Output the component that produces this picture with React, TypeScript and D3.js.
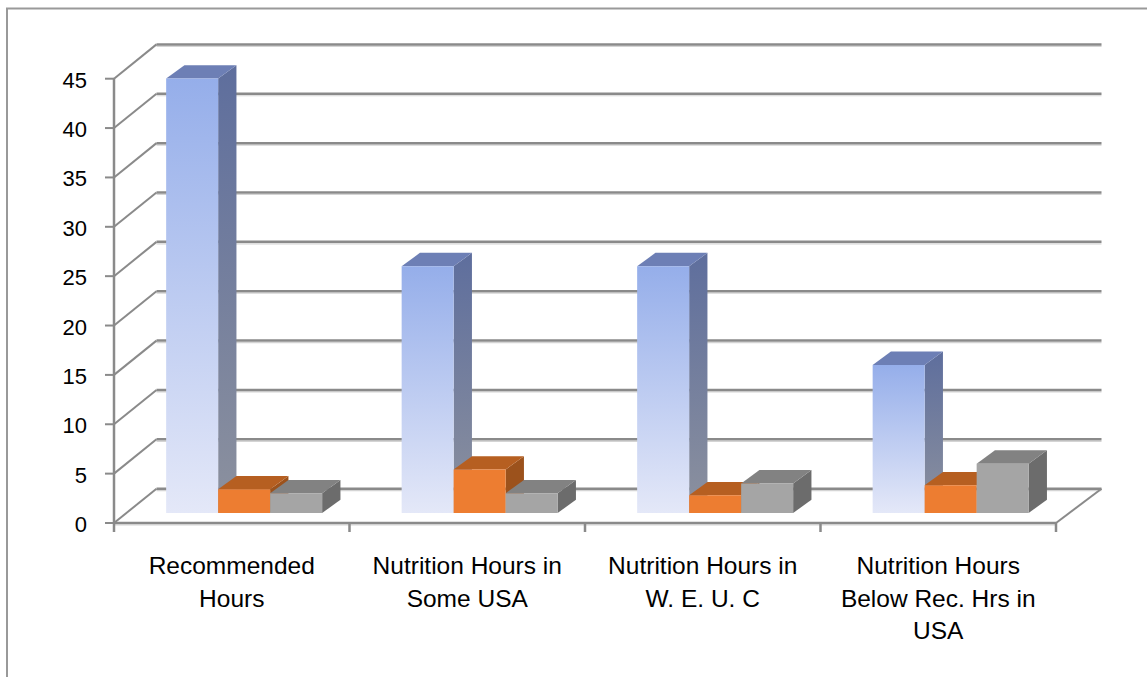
import React from "react";
import * as d3 from "d3";

const categories = [
  "Recommended\nHours",
  "Nutrition Hours in\nSome USA",
  "Nutrition Hours in\nW. E. U. C",
  "Nutrition Hours\nBelow Rec. Hrs in\nUSA",
];
const seriesNames = ["Series 1", "Series 2", "Series 3"];
const series1 = [44, 25, 25, 15];
const series2 = [2.4, 4.4, 1.8, 2.8];
const series3 = [2, 2, 3, 5];
const yTicks = [0, 5, 10, 15, 20, 25, 30, 35, 40, 45];

const W = 1147;
const H = 677;

// 3D geometry
const FRONT_X0 = 114;
const FRONT_X1 = 1056;
const WALL_DX = 42.5;
const WALL_DY = -34.3;
const BAR_DX = 12.4;
const BAR_DY = -10;
const DEPTH_DX = 18.3;
const DEPTH_DY = -13.3;
const BAR_W = 52;

const faces = [
  { front: "url(#gBlueFront)", side: "url(#gBlueSide)", top: "#6d7fb5" },
  { front: "#ED7D31", side: "#9c521c", top: "#b65f21" },
  { front: "#A5A5A5", side: "#6c6c6c", top: "#828282" },
];

export default function App() {
  const x = d3.scaleBand<string>().domain(categories).range([FRONT_X0, FRONT_X1]).padding(0);
  const y = d3.scaleLinear().domain([0, 45]).range([523, 78.7]);
  const bw = x.bandwidth();
  const groupW = BAR_W * 3;
  const xs = d3
    .scaleBand<string>()
    .domain(seriesNames)
    .range([(bw - groupW) / 2, (bw + groupW) / 2]);
  const allSeries = [series1, series2, series3];

  const gridColor = "#8a8a8a";
  const shadow = "#d4d4d4";

  const bars: JSX.Element[] = [];
  categories.forEach((c, ci) => {
    seriesNames.forEach((s, si) => {
      const v = allSeries[si][ci];
      const x0 = (x(c) as number) + (xs(s) as number) + BAR_DX;
      const x1 = x0 + xs.bandwidth();
      const yb = y(0) + BAR_DY;
      const yt = y(v) + BAR_DY;
      const f = faces[si];
      const front = `M${x0},${yb}L${x1},${yb}L${x1},${yt}L${x0},${yt}Z`;
      const top = `M${x0},${yt}L${x1},${yt}L${x1 + DEPTH_DX},${yt + DEPTH_DY}L${x0 + DEPTH_DX},${yt + DEPTH_DY}Z`;
      const side = `M${x1},${yb}L${x1 + DEPTH_DX},${yb + DEPTH_DY}L${x1 + DEPTH_DX},${yt + DEPTH_DY}L${x1},${yt}Z`;
      bars.push(
        <g key={`${ci}-${si}`}>
          <path d={side} fill={f.side} />
          <path d={top} fill={f.top} />
          <path d={front} fill={f.front} />
        </g>
      );
    });
  });

  return (
    <svg width={W} height={H} style={{ position: "absolute", left: 0, top: 0 }}>
      <defs>
        <linearGradient id="gBlueFront" x1="0" y1="0" x2="0" y2="1">
          <stop offset="0" stopColor="#95aeea" />
          <stop offset="1" stopColor="#e4e8f8" />
        </linearGradient>
        <linearGradient id="gBlueSide" x1="0" y1="0" x2="0" y2="1">
          <stop offset="0" stopColor="#5e6e9d" />
          <stop offset="1" stopColor="#8c919e" />
        </linearGradient>
      </defs>
      <rect x={0} y={0} width={W} height={H} fill="#fff" />
      {/* chart border */}
      <rect x={7} y={8.5} width={W + 20} height={H + 20} fill="none" stroke="#999" strokeWidth={2} />

      {/* back wall gridlines + left wall diagonals */}
      {yTicks.map((t) => {
        const yf = y(t);
        const yb = yf + WALL_DY;
        return (
          <g key={t}>
            <line x1={FRONT_X0 + WALL_DX} x2={FRONT_X1 + WALL_DX + 3} y1={yb + 2} y2={yb + 2} stroke={shadow} strokeWidth={1.2} />
            <line x1={FRONT_X0 + WALL_DX} x2={FRONT_X1 + WALL_DX + 3} y1={yb} y2={yb} stroke={gridColor} strokeWidth={2.5} />
            <line x1={FRONT_X0} y1={yf} x2={FRONT_X0 + WALL_DX} y2={yb} stroke={gridColor} strokeWidth={2} />
            <line x1={FRONT_X0 - 9} x2={FRONT_X0} y1={yf} y2={yf} stroke={gridColor} strokeWidth={2} />
            <text
              x={87}
              y={yf + 1.5}
              textAnchor="end"
              dominantBaseline="central"
              fontFamily="'Liberation Sans', Arial, sans-serif"
              fontSize={22}
              fill="#000"
            >
              {t}
            </text>
          </g>
        );
      })}

      {/* floor front edge and right edge */}
      <line x1={FRONT_X0} x2={FRONT_X1} y1={y(0) + 2} y2={y(0) + 2} stroke={shadow} strokeWidth={1.2} />
      <line x1={FRONT_X0} x2={FRONT_X1} y1={y(0)} y2={y(0)} stroke={gridColor} strokeWidth={2.5} />
      <line x1={FRONT_X1} y1={y(0)} x2={FRONT_X1 + WALL_DX + 3} y2={y(0) + WALL_DY} stroke={gridColor} strokeWidth={2} />
      {/* vertical axis */}
      <line x1={FRONT_X0} x2={FRONT_X0} y1={y(45)} y2={y(0) + 9} stroke={gridColor} strokeWidth={2.5} />
      {/* category ticks */}
      {categories.map((c) => (
        <line key={c} x1={(x(c) as number) + bw} x2={(x(c) as number) + bw} y1={y(0)} y2={y(0) + 9} stroke={gridColor} strokeWidth={2.5} />
      ))}

      {bars}

      {/* category labels */}
      {categories.map((c) => {
        const cx = (x(c) as number) + bw / 2;
        const lines = c.split("\n");
        return (
          <text
            key={c}
            x={cx}
            y={574}
            textAnchor="middle"
            fontFamily="'Liberation Sans', Arial, sans-serif"
            fontSize={24.5}
            fill="#000"
          >
            {lines.map((l, i) => (
              <tspan key={i} x={cx} dy={i === 0 ? 0 : 32.5}>
                {l}
              </tspan>
            ))}
          </text>
        );
      })}
    </svg>
  );
}
